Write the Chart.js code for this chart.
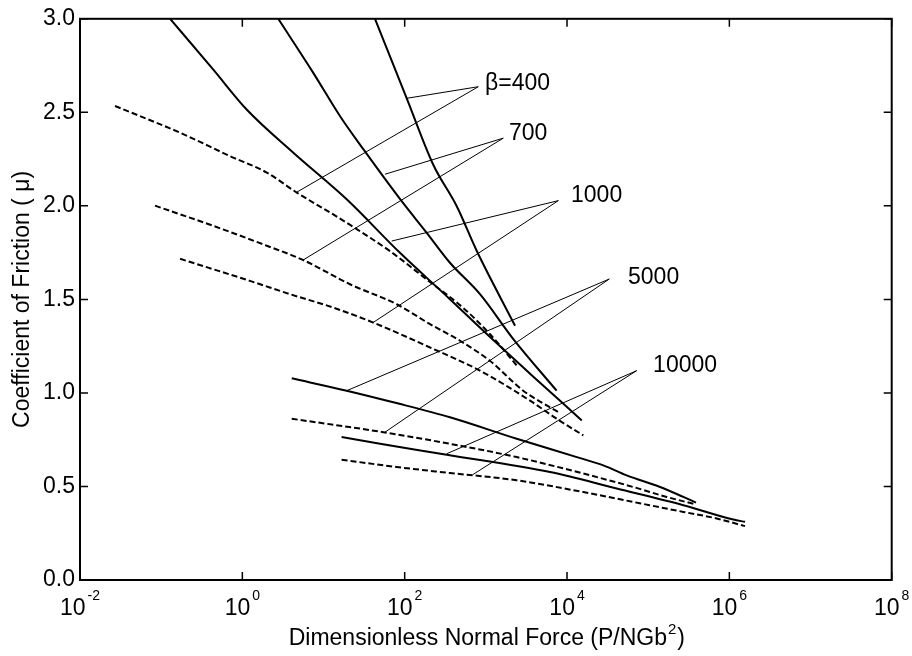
<!DOCTYPE html>
<html><head><meta charset="utf-8">
<script src="https://cdn.jsdelivr.net/npm/chart.js@4.4.0/dist/chart.umd.min.js"></script>
<style>html,body{margin:0;padding:0;background:#fff;}canvas{display:block;}</style>
</head><body>
<canvas id="c" width="912" height="656" style="width:912px;height:656px"></canvas>
<script>
const FONT = '"Liberation Sans", Arial, Helvetica, sans-serif';

// x: dimensionless normal force (P/NGb^2), y: coefficient of friction
const s400X = [43.1, 106, 225, 438, 771, 2290];
const s400Y = [3.0, 2.575, 2.22, 1.998, 1.76, 1.359];
const d400X = [0.027, 0.171, 0.705, 2.0, 4.68, 12.0, 25.6, 65.9, 205, 522, 1120, 2510];
const d400Y = [2.534, 2.391, 2.266, 2.178, 2.071, 1.965, 1.876, 1.758, 1.593, 1.456, 1.315, 1.137];

const s700X = [2.77, 7.48, 16.0, 32.4, 91.8, 187, 361, 847, 2180, 7450];
const s700Y = [3.0, 2.711, 2.479, 2.291, 2.025, 1.856, 1.696, 1.528, 1.288, 1.012];
const d700X = [0.0839, 0.439, 2.0, 5.64, 21.2, 79.8, 205, 481, 1120, 2890, 7820];
const d700Y = [2.001, 1.893, 1.787, 1.710, 1.581, 1.474, 1.368, 1.279, 1.172, 1.012, 0.897];

const s1000X = [0.129, 0.439, 1.13, 4.25, 19.3, 87.5, 361, 931, 3500, 15200];
const s1000Y = [3.0, 2.728, 2.515, 2.284, 2.035, 1.749, 1.501, 1.332, 1.103, 0.853];
const d1000X = [0.171, 1.24, 3.86, 13.2, 41.0, 205, 847, 3500, 7460, 15900];
const d1000Y = [1.717, 1.599, 1.528, 1.456, 1.376, 1.243, 1.119, 0.959, 0.862, 0.773];

const s5000X = [4.06, 19.3, 72.4, 361, 2400, 13200, 28000, 54300, 140000, 271000, 388000];
const s5000Y = [1.078, 1.012, 0.950, 0.870, 0.755, 0.657, 0.613, 0.559, 0.497, 0.444, 0.414];
const d5000X = [4.06, 54.6, 361, 2400, 15900, 65600, 169000, 378000];
const d5000Y = [0.862, 0.790, 0.728, 0.657, 0.569, 0.497, 0.444, 0.405];

const s10000X = [16.7, 49.7, 330, 6170, 40900, 271000, 1120000, 1560000];
const s10000Y = [0.764, 0.728, 0.670, 0.577, 0.489, 0.400, 0.323, 0.311];
const d10000X = [16.7, 79.6, 361, 2400, 15900, 65600, 271000, 697000, 1560000];
const d10000Y = [0.643, 0.604, 0.572, 0.533, 0.470, 0.417, 0.364, 0.329, 0.288];

// annotation labels and leader lines
const betaLabels = ['\u03B2=400', '700', '1000', '5000', '10000'];
const labelX = [977, 1930, 11200, 56400, 115000];
const labelY = [2.654, 2.387, 2.057, 1.615, 1.146];
const leaderAnchorX = [807, 1640, 7820, 33200, 72100];
const leaderAnchorY = [2.637, 2.362, 2.028, 1.609, 1.119];
const leaderSolidX = [106, 57.1, 69.2, 19.3, 330];
const leaderSolidY = [2.575, 2.169, 1.812, 1.012, 0.675];
const leaderDashX = [4.68, 5.58, 40.7, 57.1, 689];
const leaderDashY = [2.073, 1.710, 1.376, 0.790, 0.563];

// axes
const xTickExponents = [-2, 0, 2, 4, 6, 8];
const yTickValues = [0, 0.5, 1.0, 1.5, 2.0, 2.5, 3.0];
const xTitleMain = 'Dimensionless Normal Force (P/NGb';
const xTitleSup = '2';
const xTitleEnd = ')';

function pts(xs, ys) { return xs.map((x, i) => ({ x: x, y: ys[i] })); }

const curveDefs = [
  [s400X, s400Y, false], [d400X, d400Y, true],
  [s700X, s700Y, false], [d700X, d700Y, true],
  [s1000X, s1000Y, false], [d1000X, d1000Y, true],
  [s5000X, s5000Y, false], [d5000X, d5000Y, true],
  [s10000X, s10000Y, false], [d10000X, d10000Y, true]
];

const datasets = curveDefs.map(([xs, ys, dashed]) => ({
  data: pts(xs, ys),
  borderColor: '#000',
  borderWidth: 2,
  borderDash: dashed ? [6, 3] : [],
  pointRadius: 0,
  cubicInterpolationMode: 'monotone',
  fill: false
}));

betaLabels.forEach((_, i) => {
  datasets.push({
    data: [
      { x: leaderSolidX[i], y: leaderSolidY[i] },
      { x: leaderAnchorX[i], y: leaderAnchorY[i] },
      { x: leaderDashX[i], y: leaderDashY[i] }
    ],
    borderColor: '#000',
    borderWidth: 1,
    pointRadius: 0,
    tension: 0,
    fill: false
  });
});

const framePlugin = {
  id: 'frame',
  afterDatasetsDraw(chart) {
    const { ctx, chartArea: a, scales: { x, y } } = chart;
    ctx.save();
    ctx.strokeStyle = '#000';
    ctx.lineWidth = 2;
    ctx.strokeRect(a.left, a.top, a.right - a.left, a.bottom - a.top);
    ctx.lineWidth = 1.5;
    ctx.beginPath();
    xTickExponents.forEach(e => {
      const px = x.getPixelForValue(Math.pow(10, e));
      ctx.moveTo(px, a.bottom); ctx.lineTo(px, a.bottom - 8);
      ctx.moveTo(px, a.top); ctx.lineTo(px, a.top + 8);
    });
    yTickValues.forEach(v => {
      const py = y.getPixelForValue(v);
      ctx.moveTo(a.left, py); ctx.lineTo(a.left + 8, py);
      ctx.moveTo(a.right, py); ctx.lineTo(a.right - 8, py);
    });
    ctx.stroke();

    ctx.fillStyle = '#000';
    ctx.textAlign = 'left';
    ctx.textBaseline = 'alphabetic';
    xTickExponents.forEach(e => {
      const px = x.getPixelForValue(Math.pow(10, e));
      const base = '10';
      const exp = e < 0 ? '-' + Math.abs(e) : String(e);
      ctx.font = '23px ' + FONT; const wb = ctx.measureText(base).width;
      ctx.font = '14px ' + FONT; const we = ctx.measureText(exp).width;
      const gap = 2;
      const start = px - (wb + gap + we) / 2;
      ctx.font = '23px ' + FONT; ctx.fillText(base, start, a.bottom + 35);
      ctx.font = '14px ' + FONT; ctx.fillText(exp, start + wb + gap, a.bottom + 20);
    });

    // x axis title with superscript
    ctx.font = '23px ' + FONT; const w1 = ctx.measureText(xTitleMain).width; const w3 = ctx.measureText(xTitleEnd).width;
    ctx.font = '15px ' + FONT; const w2 = ctx.measureText(xTitleSup).width;
    const cx = (a.left + a.right) / 2;
    const tx = cx - (w1 + w2 + w3) / 2;
    ctx.font = '23px ' + FONT; ctx.fillText(xTitleMain, tx, a.bottom + 65);
    ctx.font = '15px ' + FONT; ctx.fillText(xTitleSup, tx + w1 + 1, a.bottom + 54);
    ctx.font = '23px ' + FONT; ctx.fillText(xTitleEnd, tx + w1 + w2 + 2, a.bottom + 65);

    ctx.font = '23px ' + FONT;
    ctx.textBaseline = 'middle';
    betaLabels.forEach((t, i) => {
      ctx.fillText(t, x.getPixelForValue(labelX[i]), y.getPixelForValue(labelY[i]));
    });
    ctx.restore();
  }
};

new Chart(document.getElementById('c'), {
  type: 'line',
  data: { datasets: datasets },
  options: {
    responsive: false,
    animation: false,
    devicePixelRatio: 1,
    layout: { padding: { top: 17.3, right: 20.3, left: 0, bottom: 0 } },
    plugins: { legend: { display: false }, tooltip: { enabled: false } },
    scales: {
      x: {
        type: 'logarithmic',
        min: 0.01,
        max: 1e8,
        grid: { display: false, drawTicks: false },
        border: { display: false },
        ticks: { display: false },
        title: { display: false },
        afterFit(scale) { scale.height = 76; }
      },
      y: {
        type: 'linear',
        min: 0,
        max: 3,
        grid: { display: false, drawTicks: false },
        border: { display: false },
        ticks: {
          stepSize: 0.5,
          color: '#000',
          padding: 5,
          font: { family: FONT, size: 23 },
          callback: v => Number(v).toFixed(1)
        },
        title: {
          display: true,
          text: 'Coefficient of Friction ( \u03BC)',
          color: '#000',
          font: { family: FONT, size: 23 },
          padding: { top: 9, bottom: 0 }
        },
        afterFit(scale) { scale.width = 80; }
      }
    }
  },
  plugins: [framePlugin]
});
</script>
</body></html>
